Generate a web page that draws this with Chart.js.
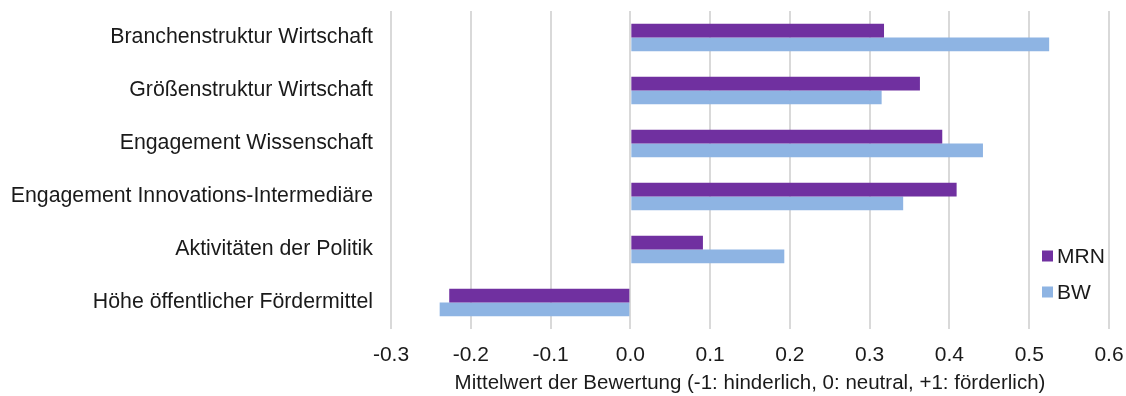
<!DOCTYPE html>
<html lang="de">
<head>
<meta charset="utf-8">
<script src="https://cdn.jsdelivr.net/npm/chart.js@4/dist/chart.umd.min.js"></script>
<style>
    html, body { margin: 0; padding: 0; background: #fff; }
    .chart-box { width: 1126px; height: 396px; }
</style>
</head>
<body>
<div class="chart-box"><canvas id="bewertungChart"></canvas></div>
<script>
const categories = [
    'Branchenstruktur Wirtschaft',
    'Größenstruktur Wirtschaft',
    'Engagement Wissenschaft',
    'Engagement Innovations-Intermediäre',
    'Aktivitäten der Politik',
    'Höhe öffentlicher Fördermittel'
];
const seriesNames = ['MRN', 'BW'];
const mrnValues = [0.318, 0.363, 0.391, 0.409, 0.091, -0.227];
const bwValues = [0.525, 0.315, 0.442, 0.342, 0.193, -0.239];
const xTicks = [-0.3, -0.2, -0.1, 0.0, 0.1, 0.2, 0.3, 0.4, 0.5, 0.6];
const xTitle = 'Mittelwert der Bewertung (-1: hinderlich, 0: neutral, +1: förderlich)';

const textColor = '#1a1a1a';
const fontFamily = '"Liberation Sans", Arial, sans-serif';

// Legende rechts unten innerhalb der Zeichenfläche
const innerLegend = {
    id: 'innerLegend',
    afterDatasetsDraw(chart) {
        const ctx = chart.ctx;
        const area = chart.chartArea;
        ctx.save();
        ctx.font = '21px ' + fontFamily;
        ctx.textBaseline = 'middle';
        ctx.textAlign = 'left';
        chart.data.datasets.forEach(function(ds, i) {
            const x = area.right - 67;
            const y = area.top + 245 + i * 36;
            ctx.fillStyle = ds.backgroundColor;
            ctx.fillRect(x, y - 5.5, 11, 11);
            ctx.fillStyle = textColor;
            ctx.fillText(ds.label, x + 15, y + 1);
        });
        ctx.restore();
    }
};

const ctx = document.getElementById('bewertungChart').getContext('2d');
new Chart(ctx, {
    type: 'bar',
    data: {
        labels: categories,
        datasets: [
            {
                label: seriesNames[0],
                data: mrnValues,
                backgroundColor: '#7030a0',
                borderWidth: 0,
                categoryPercentage: 0.515,
                barPercentage: 1.0
            },
            {
                label: seriesNames[1],
                data: bwValues,
                backgroundColor: '#8eb4e3',
                borderWidth: 0,
                categoryPercentage: 0.515,
                barPercentage: 1.0
            }
        ]
    },
    options: {
        indexAxis: 'y',
        responsive: true,
        maintainAspectRatio: false,
        animation: false,
        layout: {
            padding: { top: 11, right: 17, left: 0, bottom: 0 }
        },
        scales: {
            x: {
                min: -0.3,
                max: 0.6,
                afterBuildTicks: function(scale) {
                    scale.ticks = xTicks.map(v => ({ value: v }));
                },
                afterFit: function(scale) {
                    scale.height = 67;
                    scale.paddingLeft = 0;
                    scale.paddingRight = 0;
                },
                ticks: {
                    color: textColor,
                    padding: 14,
                    font: { family: fontFamily, size: 21 },
                    callback: function(value) {
                        return Number(value).toFixed(1);
                    }
                },
                grid: {
                    color: '#d9d9d9',
                    lineWidth: 2,
                    drawTicks: false
                },
                border: { display: false },
                title: {
                    display: true,
                    text: xTitle,
                    color: textColor,
                    font: { family: fontFamily, size: 20.5 },
                    padding: { top: 4, bottom: 0 }
                }
            },
            y: {
                afterFit: function(scale) {
                    scale.width = 391;
                    scale.paddingTop = 0;
                    scale.paddingBottom = 0;
                },
                ticks: {
                    color: textColor,
                    padding: 10,
                    font: { family: fontFamily, size: 21.3 }
                },
                grid: { display: false },
                border: { display: false }
            }
        },
        plugins: {
            legend: { display: false },
            tooltip: { enabled: false }
        }
    },
    plugins: [innerLegend]
});
</script>
</body>
</html>
